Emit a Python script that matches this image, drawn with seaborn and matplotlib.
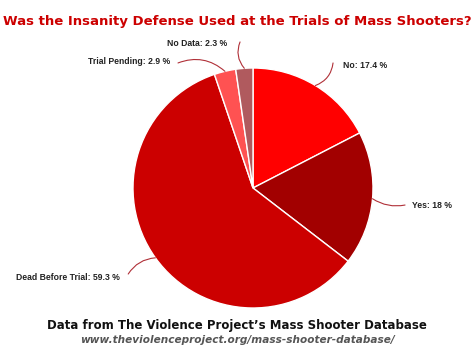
import numpy as np
import matplotlib
matplotlib.use("Agg")
import matplotlib.pyplot as plt
import seaborn as sns

categories = ["No", "Yes", "Dead Before Trial", "Trial Pending", "No Data"]
values = [17.4, 18.0, 59.3, 2.9, 2.3]
value_labels = ["17.4", "18", "59.3", "2.9", "2.3"]
colors = ["#ff0000", "#a20000", "#cc0000", "#ff5252", "#b05a5e"]

title = "Was the Insanity Defense Used at the Trials of Mass Shooters?"
footer = "Data from The Violence Project\u2019s Mass Shooter Database"
url = "www.theviolenceproject.org/mass-shooter-database/"

sns.set_theme(style="white")
plt.rcParams['font.family'] = ['DejaVu Sans']

W, H = 474, 359
fig = plt.figure(figsize=(W / 100, H / 100), dpi=100)
fig.patch.set_facecolor("white")
cx, cy, r = 253, 188, 120
ax = fig.add_axes([(cx - r) / W, (H - cy - r) / H, 2 * r / W, 2 * r / H])

wedges, _ = ax.pie(values, colors=colors, startangle=90, counterclock=False,
                   radius=1.0, wedgeprops=dict(edgecolor="white", linewidth=1.0))
ax.set_xlim(-1, 1)
ax.set_ylim(-1, 1)
ax.set_aspect("equal")
ax.axis("off")

# label placement (data coords): text anchor, line end, ha, curvature
label_pos = [
    ((0.75, 1.017), (0.667, 1.042), "left", -0.3),
    ((1.325, -0.142), (1.267, -0.142), "left", -0.2),
    ((-1.108, -0.742), (-1.04, -0.717), "right", -0.25),
    ((-0.69, 1.05), (-0.625, 1.042), "right", -0.3),
    ((-0.217, 1.2), (-0.108, 1.217), "right", 0.3),
]

for w, cat, lab, (tpos, lend, ha, rad) in zip(wedges, categories, value_labels, label_pos):
    ang = np.deg2rad((w.theta1 + w.theta2) / 2)
    x0, y0 = np.cos(ang), np.sin(ang)
    ax.annotate("", xy=(x0, y0), xytext=lend, annotation_clip=False,
                arrowprops=dict(arrowstyle="-", color="#b03038", lw=0.8,
                                connectionstyle=f"arc3,rad={rad}", shrinkA=0, shrinkB=0))
    ax.text(tpos[0], tpos[1], f"{cat}: {lab} %", ha=ha, va="center",
            fontsize=6.2, fontweight="bold", color="#222222",
            family=["Liberation Sans"], clip_on=False)

fig.text(0.5, 1 - 21 / H, title, ha="center", va="center", fontsize=9.5,
         fontweight="bold", color="#cc0000")
fig.text(0.5, 1 - 325 / H, footer, ha="center", va="center", fontsize=8.5,
         fontweight="bold", color="#111111")
fig.text(0.5, 1 - 340 / H, url, ha="center", va="center", fontsize=7.6,
         fontweight="bold", style="italic", color="#555555")

fig.savefig("out.png", dpi=100, facecolor="white")
